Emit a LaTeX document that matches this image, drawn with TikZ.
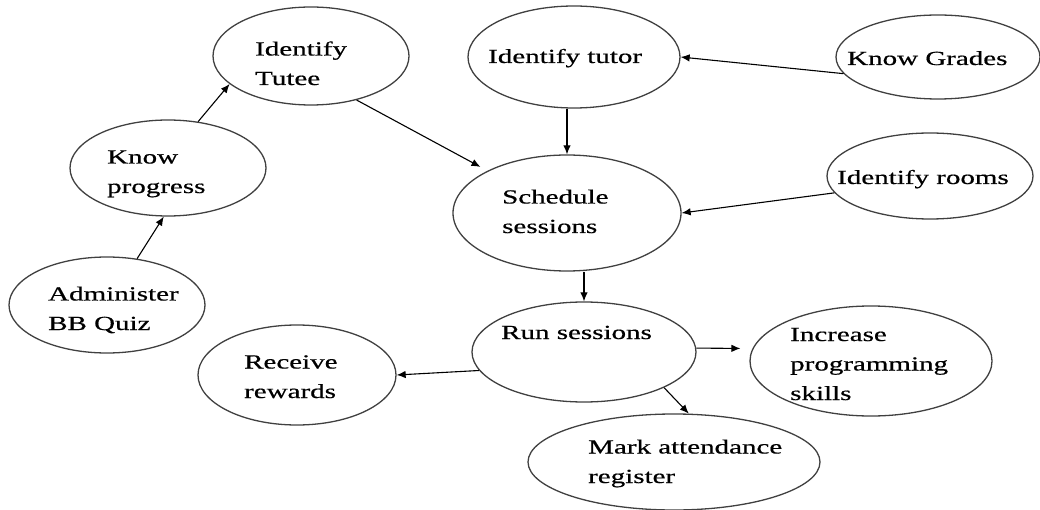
\documentclass[tikz,border=0pt]{standalone}
\usepackage{fontspec}
\setmainfont{Liberation Serif}[FakeStretch=1.45,FakeBold=0.6]
\usetikzlibrary{shapes.geometric,arrows.meta}

\begin{document}
\begin{tikzpicture}[x=1pt,y=-1pt,
	usecase/.style 2 args={
		ellipse, draw=black!75, line width=1.3pt, inner sep=0pt,
		minimum width=#1, minimum height=#2
	},
	% base of a text node sits on its last line
	casetext/.style={
		anchor=base west, align=left, inner sep=0pt,
		font=\fontsize{20pt}{29.5pt}\selectfont
	},
	flow/.style={-{Latex[length=9pt,width=7.5pt]}, line width=1.1pt}
]
	\useasboundingbox (0,0) rectangle (1040,510);

	% the use cases
	\node[usecase={196pt}{96pt}] (admin) at (107,305) {};
	\node[usecase={196pt}{96pt}] (kprog) at (168,168) {};
	\node[usecase={196pt}{98pt}] (itutee) at (311,56) {};
	\node[usecase={212pt}{102pt}] (itutor) at (574,57) {};
	\node[usecase={204pt}{84pt}] (kgrades) at (938,57) {};
	\node[usecase={206pt}{86pt}] (irooms) at (930,176) {};
	\node[usecase={228pt}{116pt}] (sched) at (567,213) {};
	\node[usecase={224pt}{100pt}] (run) at (584,352) {};
	\node[usecase={198pt}{100pt}] (rewards) at (297,375) {};
	\node[usecase={242pt}{110pt}] (incr) at (871,361) {};
	\node[usecase={292pt}{96pt}] (mark) at (674,462) {};

	% their texts, set flush left inside
	\node[casetext] (admin-t) at (48,330) {Administer\\BB Quiz};
	\node[casetext] (kprog-t) at (107,193) {Know\\progress};
	\node[casetext] (itutee-t) at (255,85) {Identify\\Tutee};
	\node[casetext] (itutor-t) at (488,63) {Identify tutor};
	\node[casetext] (kgrades-t) at (847,65) {Know Grades};
	\node[casetext] (irooms-t) at (837,184) {Identify rooms};
	\node[casetext] (sched-t) at (502,233) {Schedule\\sessions};
	\node[casetext] (run-t) at (501,339) {Run sessions};
	\node[casetext] (rewards-t) at (244,398) {Receive\\rewards};
	\node[casetext] (incr-t) at (790,400) {Increase\\programming\\skills};
	\node[casetext] (mark-t) at (588,483) {Mark attendance\\register};

	% arrows
	\draw[flow] (admin.57) -- (kprog.265);
	\draw[flow] (kprog.57) -- (itutee.199);
	\draw[flow, shorten >=8pt] (itutee.316) -- (sched.152);
	\draw[flow] (sched.north |- itutor.south) -- (sched.north);
	\draw[flow] (kgrades.190) -- (itutor.east);
	\draw[flow] (irooms.190) -- (sched.east);
	\draw[flow] (run.north |- sched.south) -- (run.north);
	\draw[flow] (run.190) -- (rewards.east);
	\draw[flow, shorten >=12pt] (run.2) -- (incr.174);
	\draw[flow] (run.336) -- (mark.73);
\end{tikzpicture}
\end{document}
